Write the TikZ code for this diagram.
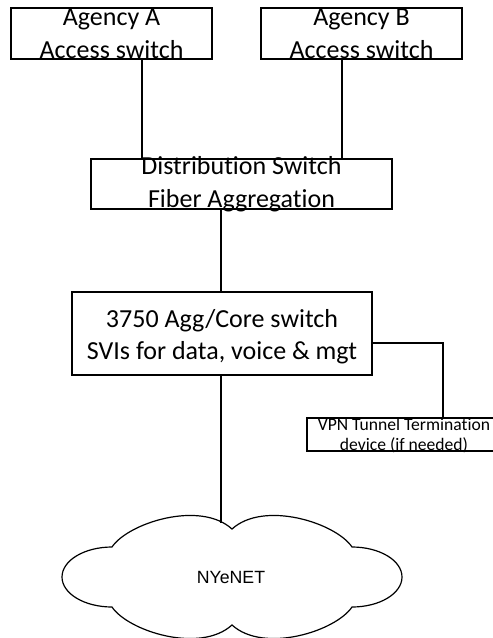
\documentclass[tikz,border=0pt]{standalone}
\usepackage{fontspec}
\setmainfont{Carlito}[Ligatures=NoCommon]
\newfontfamily\netfont{Liberation Sans}
\usetikzlibrary{calc}
\tikzset{
  switchbox/.style={ % outline of a switch box
    draw, rectangle, inner sep=0pt
  },
  boxtext/.style={ % two lines of text in a switch box
    align=center, inner sep=0pt, text=black,
    font=\fontsize{26}{32.5}\selectfont
  },
  smalltext/.style={ % text of the vpn box
    align=center, inner sep=0pt, text=black,
    font=\fontsize{17.6}{20}\selectfont
  },
  cloudtext/.style={
    inner sep=0pt, font=\netfont\fontsize{17.7}{21}\selectfont
  }
}
\begin{document}
\begin{tikzpicture}[x=1pt, y=1pt, line width=1.2pt]
  \clip (0,0) rectangle (493,-638);

  \node[switchbox, minimum width=201pt, minimum height=51pt] (agA) at (111.5,-33.5) {};
  \node[boxtext] (agAtext) at (agA.center) {Agency A\\Access switch};
  \node[switchbox, minimum width=201pt, minimum height=51pt] (agB) at (361.5,-33.5) {};
  \node[boxtext] (agBtext) at (agB.center) {Agency B\\Access switch};
  \node[switchbox, minimum width=301pt, minimum height=50pt] (dist) at (241.5,-184) {};
  \node[boxtext] (disttext) at (dist.center) {Distribution Switch\\Fiber Aggregation};
  \node[switchbox, minimum width=300pt, minimum height=83pt] (core) at (222,-333.5) {};
  \node[boxtext, yshift=-3pt] (coretext) at (core.center) {3750 Agg/Core switch\\SVIs for data, voice \& mgt};
  \node[switchbox, minimum width=194pt, minimum height=33pt] (vpn) at (404,-434.5) {};
  \node[smalltext, yshift=-1pt] (vpntext) at (vpn.center) {VPN Tunnel Termination\\device (if needed)};

  % the cloud
  \node[cloudtext] (net) at (231,-577) {NYeNET};
  \draw (112,-547) .. controls (128,-523) and (200,-500) .. (232,-529)
        .. controls (264,-500) and (336,-523) .. (352,-547)
        arc[start angle=90, end angle=-90, x radius=50, y radius=30]
        .. controls (336,-631) and (264,-654) .. (232,-625)
        .. controls (200,-654) and (128,-631) .. (112,-607)
        arc[start angle=270, end angle=90, x radius=50, y radius=30];
  \coordinate (netTop) at (221,-523);

  \draw ([xshift=30.5pt]agA.south) -- ([xshift=30.5pt]agA.south |- dist.north);
  \draw ([xshift=-19.5pt]agB.south) -- ([xshift=-19.5pt]agB.south |- dist.north);
  \draw (dist.south -| netTop) -- (core.north -| netTop);
  \draw ([yshift=-9.5pt]core.east) -| ([xshift=39pt]vpn.north);
  \draw (core.south -| netTop) -- (netTop);
\end{tikzpicture}
\end{document}
